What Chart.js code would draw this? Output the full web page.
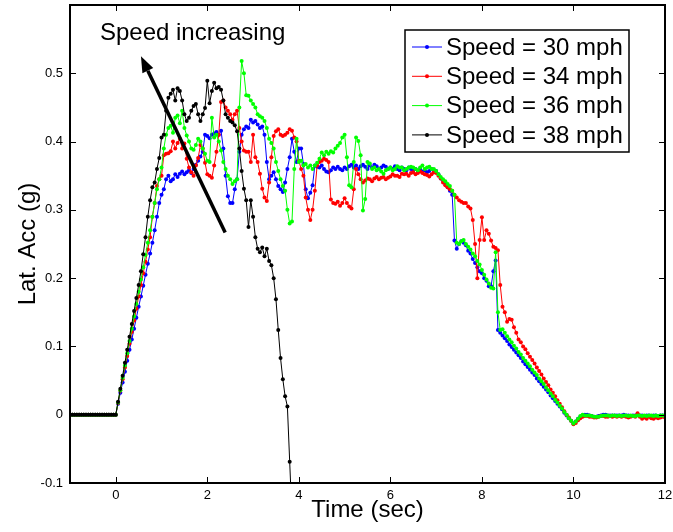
<!DOCTYPE html>
<html>
<head>
<meta charset="utf-8">
<script src="https://cdn.jsdelivr.net/npm/chart.js@4"></script>
<style>
  html, body { margin: 0; padding: 0; background: #fff; }
  #wrap { width: 673px; height: 532px; }
</style>
</head>
<body>
<div id="wrap"><canvas id="myChart" width="673" height="532"></canvas></div>
<script>
// samples every 0.05 s starting at t = -1
var sampleStart = -1;
var sampleStep = 0.05;

var xTicks = [0, 2, 4, 6, 8, 10, 12];
var yTicks = [-0.1, 0, 0.1, 0.2, 0.3, 0.4, 0.5];
var seriesLabels = ['Speed = 30 mph', 'Speed = 34 mph', 'Speed = 36 mph', 'Speed = 38 mph'];
var seriesColors = ['#0000ff', '#ff0000', '#00ff00', '#000000'];

var speed30 = [
  0,0,0,0,0,0,0,0,0,0,0,0,0,0,0,0,0,0,0,0,
  0,0.016,0.032,0.047,0.063,0.079,0.095,0.11,0.126,0.142,0.158,0.173,0.189,0.205,0.221,0.236,0.252,0.27,0.29,0.31,
  0.322,0.33,0.345,0.35,0.342,0.345,0.352,0.348,0.353,0.356,0.352,0.355,0.358,0.354,0.36,0.366,0.372,0.378,0.385,0.41,
  0.408,0.405,0.41,0.412,0.414,0.41,0.416,0.39,0.35,0.32,0.31,0.31,0.33,0.345,0.385,0.41,0.418,0.422,0.42,0.432,
  0.428,0.43,0.425,0.42,0.422,0.41,0.37,0.345,0.35,0.355,0.345,0.335,0.33,0.326,0.34,0.36,0.377,0.404,0.385,0.37,
  0.39,0.39,0.367,0.33,0.317,0.325,0.336,0.365,0.363,0.362,0.365,0.36,0.356,0.355,0.358,0.362,0.36,0.363,0.36,0.358,
  0.362,0.36,0.364,0.366,0.362,0.365,0.36,0.364,0.366,0.363,0.36,0.365,0.362,0.366,0.364,0.36,0.362,0.365,0.363,0.36,
  0.362,0.36,0.364,0.36,0.358,0.362,0.36,0.358,0.362,0.36,0.358,0.36,0.357,0.36,0.356,0.358,0.355,0.357,0.36,0.358,
  0.357,0.352,0.346,0.343,0.338,0.333,0.328,0.322,0.255,0.243,0.25,0.254,0.252,0.248,0.24,0.236,0.228,0.222,0.216,0.21,
  0.207,0.2,0.196,0.188,0.188,0.21,0.226,0.124,0.12,0.116,0.112,0.108,0.103,0.099,0.095,0.091,0.087,0.083,0.078,0.074,
  0.07,0.066,0.062,0.058,0.053,0.049,0.045,0.041,0.037,0.033,0.028,0.024,0.02,0.016,0.012,0.008,0.003,-0.001,-0.005,-0.009,
  -0.013,-0.01,-0.006,-0.003,-0.001,0,0,-0.001,-0.002,-0.003,-0.003,-0.002,-0.001,0,0,-0.001,-0.001,-0.001,-0.001,-0.001,
  -0.001,-0.001,0,-0.001,-0.001,-0.002,-0.001,-0.001,0,-0.001,-0.001,-0.002,-0.001,-0.001,-0.002,-0.001,-0.001,-0.002,-0.001,-0.001,
  -0.001
];

var speed34 = [
  0,0,0,0,0,0,0,0,0,0,0,0,0,0,0,0,0,0,0,0,
  0,0.017,0.035,0.052,0.069,0.086,0.104,0.121,0.138,0.155,0.173,0.19,0.207,0.224,0.242,0.26,0.29,0.31,0.335,0.345,
  0.35,0.38,0.382,0.383,0.386,0.4,0.39,0.398,0.404,0.39,0.397,0.375,0.362,0.355,0.35,0.365,0.376,0.395,0.39,0.369,
  0.352,0.35,0.347,0.365,0.385,0.41,0.458,0.46,0.45,0.445,0.44,0.432,0.44,0.445,0.42,0.4,0.387,0.385,0.385,0.37,
  0.41,0.377,0.37,0.353,0.331,0.318,0.313,0.34,0.377,0.408,0.415,0.418,0.41,0.408,0.41,0.413,0.418,0.416,0.406,0.4,
  0.372,0.36,0.35,0.318,0.3,0.285,0.3,0.328,0.365,0.37,0.372,0.375,0.373,0.37,0.315,0.31,0.309,0.312,0.306,0.31,
  0.317,0.31,0.305,0.302,0.33,0.36,0.352,0.345,0.34,0.343,0.346,0.345,0.342,0.346,0.348,0.345,0.347,0.348,0.345,0.347,
  0.349,0.352,0.35,0.35,0.348,0.353,0.352,0.353,0.35,0.354,0.355,0.352,0.354,0.356,0.354,0.352,0.351,0.349,0.352,0.355,
  0.354,0.35,0.346,0.34,0.336,0.333,0.33,0.328,0.322,0.318,0.314,0.312,0.31,0.31,0.305,0.302,0.285,0.25,0.2,0.256,
  0.289,0.256,0.27,0.265,0.255,0.246,0.244,0.241,0.19,0.158,0.15,0.136,0.14,0.139,0.128,0.12,0.11,0.106,0.1,0.096,
  0.09,0.085,0.08,0.075,0.069,0.064,0.059,0.053,0.048,0.043,0.037,0.032,0.027,0.021,0.016,0.011,0.005,0,-0.004,-0.009,
  -0.014,-0.012,-0.008,-0.005,-0.003,-0.002,-0.002,-0.003,-0.003,-0.004,-0.004,-0.003,-0.002,-0.002,-0.003,-0.003,-0.002,-0.003,-0.002,-0.003,
  -0.002,-0.003,-0.002,-0.003,-0.004,-0.003,-0.002,-0.003,0.002,-0.003,-0.006,-0.004,-0.006,-0.003,-0.005,-0.006,-0.004,-0.005,-0.004,-0.003,
  -0.004
];

var speed36 = [
  0,0,0,0,0,0,0,0,0,0,0,0,0,0,0,0,0,0,0,0,
  0,0.018,0.036,0.054,0.072,0.09,0.108,0.126,0.144,0.162,0.18,0.198,0.216,0.234,0.252,0.27,0.29,0.31,0.33,0.345,
  0.362,0.39,0.41,0.42,0.423,0.413,0.435,0.438,0.427,0.445,0.42,0.409,0.4,0.39,0.388,0.395,0.404,0.4,0.39,0.382,
  0.372,0.37,0.435,0.406,0.41,0.4,0.387,0.37,0.36,0.35,0.345,0.338,0.342,0.345,0.45,0.518,0.5,0.468,0.467,0.46,
  0.455,0.45,0.44,0.437,0.435,0.43,0.42,0.404,0.398,0.39,0.37,0.357,0.345,0.335,0.328,0.3,0.28,0.283,0.36,0.404,
  0.37,0.372,0.365,0.367,0.362,0.365,0.36,0.365,0.369,0.375,0.384,0.38,0.385,0.382,0.386,0.384,0.39,0.394,0.398,0.406,
  0.41,0.377,0.336,0.333,0.37,0.406,0.401,0.38,0.299,0.316,0.37,0.368,0.36,0.362,0.358,0.36,0.356,0.353,0.358,0.36,
  0.362,0.358,0.36,0.364,0.362,0.362,0.358,0.36,0.362,0.363,0.362,0.36,0.358,0.362,0.365,0.36,0.362,0.363,0.36,0.36,
  0.357,0.352,0.348,0.345,0.342,0.338,0.335,0.328,0.322,0.252,0.25,0.254,0.256,0.25,0.246,0.242,0.236,0.232,0.225,0.22,
  0.212,0.205,0.198,0.192,0.186,0.185,0.238,0.15,0.124,0.125,0.12,0.115,0.11,0.106,0.101,0.097,0.092,0.088,0.083,0.079,
  0.075,0.071,0.066,0.062,0.058,0.053,0.049,0.045,0.04,0.036,0.031,0.027,0.022,0.018,0.013,0.009,0.004,0,-0.005,-0.009,
  -0.013,-0.01,-0.006,-0.002,0,-0.001,-0.001,-0.001,-0.002,-0.003,-0.003,-0.003,-0.002,-0.001,-0.001,-0.001,-0.002,-0.001,-0.001,-0.002,
  -0.001,-0.002,-0.001,-0.001,-0.002,-0.001,-0.002,-0.002,-0.001,-0.001,-0.002,-0.001,-0.002,-0.001,-0.001,-0.002,-0.001,-0.002,-0.001,-0.001,
  -0.002
];

var speed38 = [
  0,0,0,0,0,0,0,0,0,0,0,0,0,0,0,0,0,0,0,0,
  0,0.019,0.038,0.057,0.076,0.095,0.114,0.133,0.152,0.171,0.19,0.21,0.235,0.26,0.29,0.314,0.333,0.34,0.36,0.376,
  0.406,0.41,0.445,0.464,0.47,0.476,0.46,0.478,0.474,0.46,0.44,0.43,0.435,0.445,0.452,0.455,0.44,0.43,0.44,0.449,
  0.489,0.456,0.474,0.486,0.478,0.48,0.476,0.46,0.44,0.435,0.43,0.428,0.424,0.415,0.39,0.357,0.331,0.314,0.275,0.314,
  0.29,0.26,0.243,0.238,0.245,0.232,0.243,0.225,0.219,0.2,0.169,0.124,0.083,0.052,0.027,0.012,-0.069,-0.15
];

// annotation arrow, in data units (time, g)
var arrowTail = {x: 2.39, y: 0.267};
var arrowHead = {x: 0.55, y: 0.525};
var noteText = 'Speed increasing';
var notePos = {x: 1.68, y: 0.558};

var fontFamily = '"Liberation Sans", Arial, Helvetica, sans-serif';

function toPoints(vals) {
  return vals.map(function (v, i) {
    return {x: +(sampleStart + i * sampleStep).toFixed(2), y: v};
  });
}

var allSeries = [speed30, speed34, speed36, speed38];
var datasets = allSeries.map(function (vals, i) {
  return {
    label: seriesLabels[i],
    data: toPoints(vals),
    borderColor: seriesColors[i],
    backgroundColor: seriesColors[i],
    borderWidth: 1,
    pointRadius: 2,
    pointBorderWidth: 0,
    pointBackgroundColor: seriesColors[i],
    tension: 0,
    order: 4 - i   // later series drawn on top, like the original plot
  };
});

// box, inward ticks, arrow note and legend in the old plotting style
var matlabFrame = {
  id: 'matlabFrame',
  afterDraw: function (chart) {
    var ctx = chart.ctx;
    var a = chart.chartArea;
    var x = chart.scales.x, y = chart.scales.y;
    ctx.save();
    ctx.strokeStyle = '#000';
    ctx.lineWidth = 2;
    ctx.strokeRect(a.left, a.top, a.right - a.left, a.bottom - a.top);

    ctx.lineWidth = 1;
    ctx.beginPath();
    xTicks.forEach(function (v) {
      var px = Math.round(x.getPixelForValue(v)) + 0.5;
      ctx.moveTo(px, a.bottom); ctx.lineTo(px, a.bottom - 6);
      ctx.moveTo(px, a.top); ctx.lineTo(px, a.top + 6);
    });
    yTicks.forEach(function (v) {
      var py = Math.round(y.getPixelForValue(v)) + 0.5;
      ctx.moveTo(a.left, py); ctx.lineTo(a.left + 6, py);
      ctx.moveTo(a.right, py); ctx.lineTo(a.right - 6, py);
    });
    ctx.stroke();

    // arrow
    var tx = x.getPixelForValue(arrowTail.x), ty = y.getPixelForValue(arrowTail.y);
    var hx = x.getPixelForValue(arrowHead.x), hy = y.getPixelForValue(arrowHead.y);
    var ang = Math.atan2(hy - ty, hx - tx);
    var headLen = 16, headW = 6;
    var bx = hx - headLen * Math.cos(ang), by = hy - headLen * Math.sin(ang);
    ctx.lineWidth = 3.5;
    ctx.beginPath();
    ctx.moveTo(tx, ty); ctx.lineTo(bx, by);
    ctx.stroke();
    ctx.fillStyle = '#000';
    ctx.beginPath();
    ctx.moveTo(hx, hy);
    ctx.lineTo(bx + headW * Math.sin(ang), by - headW * Math.cos(ang));
    ctx.lineTo(bx - headW * Math.sin(ang), by + headW * Math.cos(ang));
    ctx.closePath();
    ctx.fill();

    ctx.font = '24px ' + fontFamily;
    ctx.textAlign = 'center';
    ctx.textBaseline = 'middle';
    ctx.fillText(noteText, x.getPixelForValue(notePos.x), y.getPixelForValue(notePos.y));

    // legend
    var lx = a.right - 260, ly = a.top + 25, lw = 224, lh = 122;
    ctx.fillStyle = '#fff';
    ctx.fillRect(lx, ly, lw, lh);
    ctx.lineWidth = 1.5;
    ctx.strokeStyle = '#000';
    ctx.strokeRect(lx, ly, lw, lh);
    ctx.textAlign = 'left';
    chart.data.datasets.forEach(function (ds, i) {
      var ry = ly + 17 + i * 29.3;
      ctx.strokeStyle = ds.borderColor;
      ctx.lineWidth = 1;
      ctx.beginPath();
      ctx.moveTo(lx + 7, ry); ctx.lineTo(lx + 37, ry);
      ctx.stroke();
      ctx.fillStyle = ds.borderColor;
      ctx.beginPath();
      ctx.arc(lx + 22, ry, 2, 0, Math.PI * 2);
      ctx.fill();
      ctx.fillStyle = '#000';
      ctx.fillText(ds.label, lx + 41, ry + 1);
    });
    ctx.restore();
  }
};

var ctx = document.getElementById('myChart').getContext('2d');
var myChart = new Chart(ctx, {
  type: 'line',
  data: { datasets: datasets },
  options: {
    responsive: false,
    animation: false,
    layout: { padding: { top: 5, right: 8, left: 0, bottom: 0 } },
    plugins: {
      legend: { display: false },
      tooltip: { enabled: false }
    },
    scales: {
      x: {
        type: 'linear',
        min: -1,
        max: 12,
        afterBuildTicks: function (axis) {
          axis.ticks = xTicks.map(function (v) { return {value: v}; });
        },
        afterFit: function (axis) {
          axis.height = 49;
          axis.paddingLeft = 0;
          axis.paddingRight = 0;
        },
        grid: { display: false, drawTicks: false },
        border: { display: false },
        ticks: {
          padding: 5,
          maxRotation: 0,
          color: '#000',
          font: { family: fontFamily, size: 13 }
        },
        title: {
          display: true,
          text: 'Time (sec)',
          color: '#000',
          padding: { top: 0, bottom: 7 },
          font: { family: fontFamily, size: 24 }
        }
      },
      y: {
        type: 'linear',
        min: -0.1,
        max: 0.6,
        afterBuildTicks: function (axis) {
          axis.ticks = yTicks.map(function (v) { return {value: v}; });
        },
        afterFit: function (axis) {
          axis.width = 70;
          axis.paddingTop = 0;
          axis.paddingBottom = 0;
        },
        grid: { display: false, drawTicks: false },
        border: { display: false },
        ticks: {
          padding: 7,
          color: '#000',
          font: { family: fontFamily, size: 13 },
          callback: function (v) { return String(Math.round(v * 10) / 10); }
        },
        title: {
          display: true,
          text: 'Lat. Acc (g)',
          color: '#000',
          padding: { top: 14, bottom: 0 },
          font: { family: fontFamily, size: 24 }
        }
      }
    }
  },
  plugins: [matlabFrame]
});
</script>
</body>
</html>
